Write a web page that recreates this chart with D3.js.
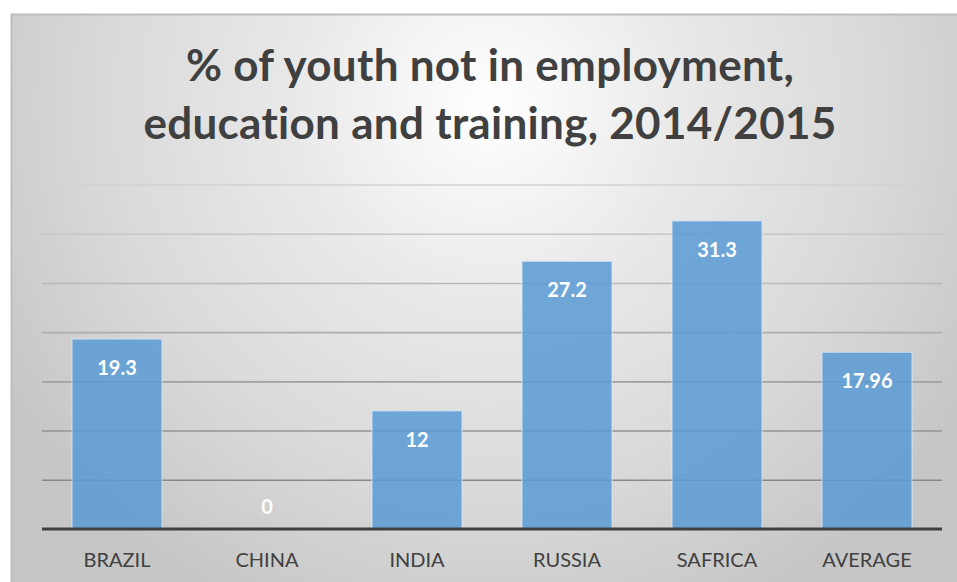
<!DOCTYPE html>
<html>
<head>
<meta charset="utf-8">
<script src="https://cdn.jsdelivr.net/npm/d3@7"></script>
<style>
  html, body { margin: 0; padding: 0; background: #ffffff; }
  svg { display: block; }
  text { font-variant-ligatures: none; font-feature-settings: "liga" 0; }
</style>
</head>
<body>
<svg id="chart" width="957" height="582"></svg>
<script>
// Chart data
const categories = ["BRAZIL", "CHINA", "INDIA", "RUSSIA", "SAFRICA", "AVERAGE"];
const values = [19.3, 0, 12, 27.2, 31.3, 17.96];
const valueLabels = ["19.3", "0", "12", "27.2", "31.3", "17.96"];
const gridTicks = [5, 10, 15, 20, 25, 30, 35];
const titleLines = ["% of youth not in employment,", "education and training, 2014/2015"];

const W = 957, H = 582;
const svg = d3.select("#chart");

// Background panel with radial shading
const defs = svg.append("defs");
const grad = defs.append("radialGradient")
  .attr("id", "bg")
  .attr("gradientUnits", "userSpaceOnUse")
  .attr("cx", 490).attr("cy", 105).attr("r", 560);
[[0, "#ffffff"], [0.35, "#e9e9e9"], [0.7, "#d9d9d9"], [1, "#c6c6c6"]].forEach(([o, c]) =>
  grad.append("stop").attr("offset", o).attr("stop-color", c));

svg.append("rect")
  .attr("x", 11.5).attr("y", 14.5)
  .attr("width", W).attr("height", H)
  .attr("fill", "url(#bg)")
  .attr("stroke", "#bdbdbd").attr("stroke-width", 2);

// Scales
const plot = { left: 42, right: 942, top: 184.5, bottom: 529 };
const x = d3.scaleBand()
  .domain(categories)
  .range([plot.left, plot.right])
  .paddingInner(0.4)
  .paddingOuter(0.2);
const y = d3.scaleLinear()
  .domain([0, 35])
  .range([plot.bottom, plot.top]);

// Gridlines (darker toward the bottom)
const gridColor = d3.scaleLinear().domain([35, 5]).range(["#d2d2d2", "#878787"]);
const gridAxis = d3.axisLeft(y)
  .tickValues(gridTicks)
  .tickSize(-(plot.right - plot.left))
  .tickFormat("");
const grid = svg.append("g")
  .attr("transform", `translate(${plot.left},0)`)
  .call(gridAxis);
grid.select(".domain").remove();
grid.selectAll(".tick line")
  .attr("stroke", d => gridColor(d))
  .attr("stroke-width", 1.6);

// Bars
svg.append("g").selectAll("rect")
  .data(values)
  .join("rect")
  .attr("x", (d, i) => x(categories[i]))
  .attr("y", d => y(d))
  .attr("width", x.bandwidth())
  .attr("height", d => y(0) - y(d))
  .attr("fill", "#5b9bd5")
  .attr("fill-opacity", 0.86)
  .attr("stroke", "#ddeaf7")
  .attr("stroke-opacity", 0.8)
  .attr("stroke-width", 1);

// Baseline
svg.append("line")
  .attr("x1", plot.left).attr("x2", plot.right)
  .attr("y1", y(0)).attr("y2", y(0))
  .attr("stroke", "#404040").attr("stroke-width", 3);

// Value labels inside bar ends
svg.append("g").selectAll("text")
  .data(values)
  .join("text")
  .attr("x", (d, i) => x(categories[i]) + x.bandwidth() / 2)
  .attr("y", d => Math.min(y(d) + 28, y(0) - 23))
  .attr("text-anchor", "middle")
  .attr("dominant-baseline", "central")
  .attr("font-family", "Lato, 'Open Sans', sans-serif")
  .attr("font-weight", "bold")
  .attr("font-size", 20)
  .attr("fill", "#ffffff")
  .text((d, i) => valueLabels[i]);

// Category labels
svg.append("g").selectAll("text")
  .data(categories)
  .join("text")
  .attr("x", d => x(d) + x.bandwidth() / 2)
  .attr("y", 559)
  .attr("text-anchor", "middle")
  .attr("dominant-baseline", "central")
  .attr("font-family", "Lato, 'Open Sans', sans-serif")
  .attr("font-size", 20)
  .attr("fill", "#404040")
  .text(d => d);

// Title
svg.append("g").selectAll("text")
  .data(titleLines)
  .join("text")
  .attr("x", 490)
  .attr("y", (d, i) => 81 + i * 58)
  .attr("text-anchor", "middle")
  .attr("font-family", "Lato, 'Open Sans', sans-serif")
  .attr("font-weight", "bold")
  .attr("font-size", 44)
  .attr("letter-spacing", 0.3)
  .attr("fill", "#404040")
  .text(d => d);
</script>
</body>
</html>
